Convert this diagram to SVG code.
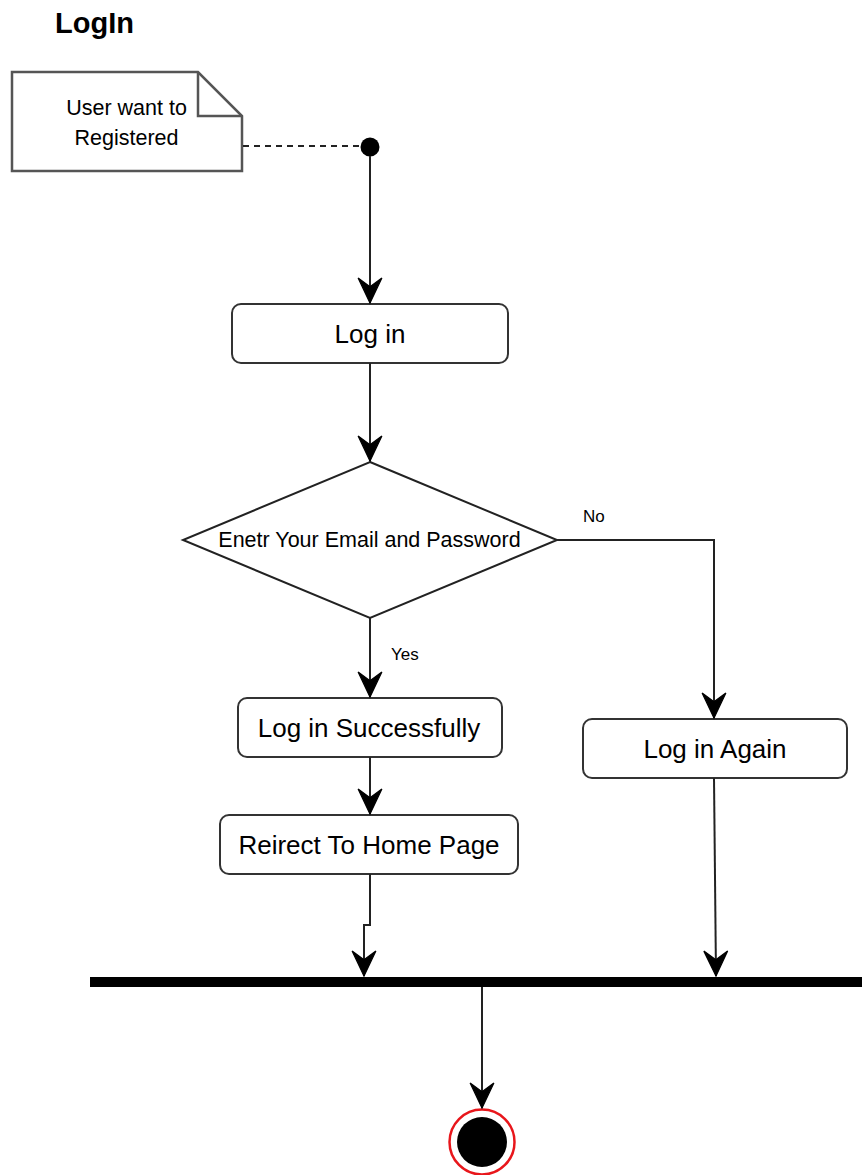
<svg xmlns="http://www.w3.org/2000/svg" width="862" height="1175" viewBox="0 0 862 1175">
  <style>
    text { font-family: "Liberation Sans", Arial, sans-serif; fill: #000; }
    .title { font-size: 29px; font-weight: bold; }
    .note-text { font-size: 21.5px; text-anchor: middle; }
    .act-text { font-size: 26px; text-anchor: middle; }
    .dec-text { font-size: 21.5px; text-anchor: middle; }
    .guard { font-size: 17px; }
    .box { fill: #fff; stroke: #333; stroke-width: 2; }
    .edge { fill: none; stroke: #222; stroke-width: 2; }
    .edge-arrow { fill: none; stroke: #222; stroke-width: 2; marker-end: url(#arrow); }
  </style>
  <defs>
    <marker id="arrow" markerUnits="userSpaceOnUse" markerWidth="30" markerHeight="30" viewBox="-22 -11 24 22" refX="0" refY="0" orient="auto" overflow="visible">
      <path d="M0,0 L-20,-9.5 L-13,0 L-20,9.5 Z" fill="#000" stroke="#000" stroke-width="1"/>
    </marker>
  </defs>

  <rect width="862" height="1175" fill="#fff"/>

  <text class="title" x="55" y="33">LogIn</text>

  <!-- note attached to the initial node -->
  <g id="note">
    <path d="M12,72 L198,72 L242,116 L242,171 L12,171 Z" fill="#fff" stroke="#555" stroke-width="2.5"/>
    <path d="M198,72 L198,116 L242,116" fill="none" stroke="#555" stroke-width="2.5"/>
    <text class="note-text" x="126.5" y="115">User want to</text>
    <text class="note-text" x="126.5" y="145">Registered</text>
  </g>

  <g id="start">
    <circle cx="370" cy="147" r="9.5" fill="#000"/>
  </g>

  <g id="login">
    <rect class="box" x="232" y="304" width="276" height="59" rx="9"/>
    <text class="act-text" x="370" y="343">Log in</text>
  </g>

  <g id="decision">
    <polygon points="370,462 557,540 370,618 183,540" fill="#fff" stroke="#222" stroke-width="2"/>
    <text class="dec-text" x="369.5" y="547">Enetr Your Email and Password</text>
  </g>

  <g id="login-success">
    <rect class="box" x="238" y="698" width="264" height="59" rx="9"/>
    <text class="act-text" x="369" y="737">Log in Successfully</text>
  </g>

  <g id="redirect">
    <rect class="box" x="220" y="815" width="298" height="59" rx="9"/>
    <text class="act-text" x="369" y="854">Reirect To Home Page</text>
  </g>

  <g id="login-again">
    <rect class="box" x="583" y="719" width="264" height="59" rx="9"/>
    <text class="act-text" x="715" y="758">Log in Again</text>
  </g>

  <g id="join-bar">
    <rect x="90" y="977" width="772" height="10" fill="#000"/>
  </g>

  <g id="end">
    <circle cx="482" cy="1142" r="32.5" fill="#fff" stroke="#e8161b" stroke-width="2.5"/>
    <circle cx="482" cy="1142" r="25" fill="#000"/>
  </g>

  <g id="connectors">
    <line x1="243" y1="146" x2="361" y2="146" stroke="#222" stroke-width="2" stroke-dasharray="6,5"/>
    <path class="edge-arrow" d="M370,156 L370,303"/>
    <path class="edge-arrow" d="M370,363 L370,461"/>
    <path class="edge-arrow" d="M557,540 L714,540 L714,718"/>
    <text class="guard" x="583" y="522">No</text>
    <path class="edge-arrow" d="M370,618 L370,697"/>
    <text class="guard" x="391" y="660">Yes</text>
    <path class="edge-arrow" d="M370,757 L370,814"/>
    <path class="edge-arrow" d="M370,874 L370,925 L364,925 L364,976"/>
    <path class="edge-arrow" d="M714,778 L716,976"/>
    <path class="edge-arrow" d="M482,987 L482,1108"/>
  </g>
</svg>
